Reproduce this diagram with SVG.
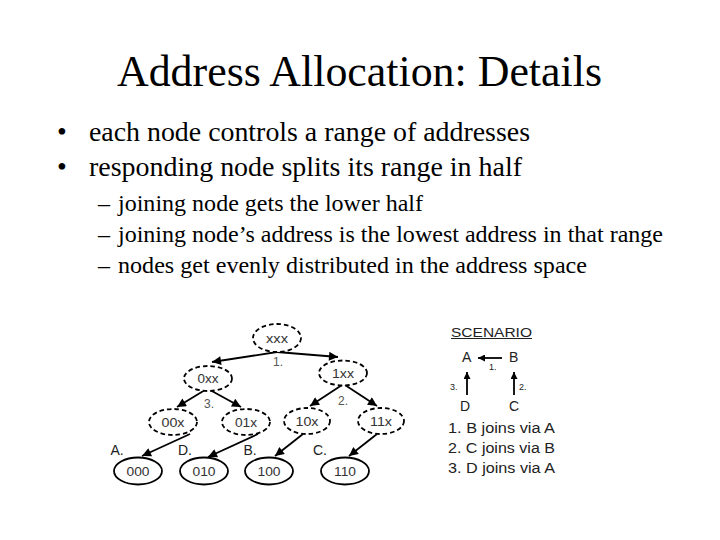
<svg xmlns="http://www.w3.org/2000/svg" width="720" height="540" viewBox="0 0 720 540">
<style>
.title{font-family:"Liberation Serif","Times New Roman",serif;font-size:44px;fill:#000}
.b1{font-family:"Liberation Serif","Times New Roman",serif;font-size:28px;fill:#000}
.b2{font-family:"Liberation Serif","Times New Roman",serif;font-size:24px;fill:#000}
.node ellipse{fill:#fff;stroke:#000;stroke-width:1.8}
.dashed ellipse{stroke-dasharray:4.5 3}
.nl{font-family:"Liberation Sans",Arial,sans-serif;font-size:12.5px;fill:#333;text-anchor:middle}
.el{font-family:"Liberation Sans",Arial,sans-serif;font-size:12px;fill:#555;text-anchor:middle}
.ll{font-family:"Liberation Sans",Arial,sans-serif;font-size:14px;fill:#222;text-anchor:middle}
.sc{font-family:"Liberation Sans",Arial,sans-serif;fill:#222}
.edge{stroke:#000;stroke-width:1.8;fill:none;marker-end:url(#ah)}
.sedge{stroke:#000;stroke-width:1.8;fill:none;marker-end:url(#ahs)}
</style>
<defs>
<marker id="ah" viewBox="0 0 10 10" refX="10" refY="5" markerWidth="12" markerHeight="9" markerUnits="userSpaceOnUse" orient="auto">
<path d="M0,0 L10,5 L0,10 z" fill="#000"/>
</marker>
<marker id="ahs" viewBox="0 0 10 10" refX="10" refY="5" markerWidth="8" markerHeight="7" markerUnits="userSpaceOnUse" orient="auto">
<path d="M0,0 L10,5 L0,10 z" fill="#000"/>
</marker>
</defs>
<rect width="720" height="540" fill="#fff"/>
<text class="title" x="117" y="86" textLength="485" lengthAdjust="spacingAndGlyphs">Address Allocation: Details</text>
<g id="bullets">
<text class="b1" x="57" y="141">•</text>
<text class="b1" x="89" y="141" textLength="441" lengthAdjust="spacingAndGlyphs">each node controls a range of addresses</text>
<text class="b1" x="57" y="176">•</text>
<text class="b1" x="89" y="176" textLength="433" lengthAdjust="spacingAndGlyphs">responding node splits its range in half</text>
<text class="b2" x="98" y="211">–</text>
<text class="b2" x="118" y="211" textLength="305" lengthAdjust="spacingAndGlyphs">joining node gets the lower half</text>
<text class="b2" x="98" y="242">–</text>
<text class="b2" x="118" y="242" textLength="545" lengthAdjust="spacingAndGlyphs">joining node’s address is the lowest address in that range</text>
<text class="b2" x="98" y="273">–</text>
<text class="b2" x="118" y="273" textLength="469" lengthAdjust="spacingAndGlyphs">nodes get evenly distributed in the address space</text>
</g>
<g id="connectors">
<line class="edge" x1="277" y1="352" x2="212" y2="362"/>
<line class="edge" x1="277" y1="352" x2="338" y2="357"/>
<line class="edge" x1="205" y1="390" x2="177" y2="407"/>
<line class="edge" x1="210" y1="390" x2="241" y2="407"/>
<line class="edge" x1="342" y1="385" x2="310" y2="406"/>
<line class="edge" x1="345" y1="385" x2="377" y2="406"/>
<line class="edge" x1="190" y1="434" x2="142" y2="456"/>
<line class="edge" x1="258" y1="434" x2="208" y2="457"/>
<line class="edge" x1="303" y1="434" x2="275" y2="456"/>
<line class="edge" x1="377" y1="434" x2="349" y2="456"/>
<text class="el" x="278" y="366">1.</text>
<text class="el" x="209" y="408">3.</text>
<text class="el" x="343" y="405">2.</text>
<text class="ll" x="117" y="455">A.</text>
<text class="ll" x="185" y="455">D.</text>
<text class="ll" x="250" y="455">B.</text>
<text class="ll" x="320" y="455">C.</text>
</g>
<g id="n-xxx" class="node dashed"><ellipse cx="277" cy="338" rx="24" ry="14"/><text class="nl" x="277" y="342.5" textLength="22" lengthAdjust="spacingAndGlyphs">xxx</text></g>
<g id="n-0xx" class="node dashed"><ellipse cx="208" cy="378.5" rx="24" ry="12.5"/><text class="nl" x="208" y="383" textLength="21" lengthAdjust="spacingAndGlyphs">0xx</text></g>
<g id="n-1xx" class="node dashed"><ellipse cx="343" cy="373" rx="24" ry="12.5"/><text class="nl" x="343" y="377.5" textLength="22" lengthAdjust="spacingAndGlyphs">1xx</text></g>
<g id="n-00x" class="node dashed"><ellipse cx="173" cy="422" rx="24" ry="13"/><text class="nl" x="173" y="426.5" textLength="23" lengthAdjust="spacingAndGlyphs">00x</text></g>
<g id="n-01x" class="node dashed"><ellipse cx="246" cy="422" rx="24" ry="13"/><text class="nl" x="246" y="426.5" textLength="22" lengthAdjust="spacingAndGlyphs">01x</text></g>
<g id="n-10x" class="node dashed"><ellipse cx="307" cy="421" rx="23" ry="13"/><text class="nl" x="307" y="425.5" textLength="23" lengthAdjust="spacingAndGlyphs">10x</text></g>
<g id="n-11x" class="node dashed"><ellipse cx="381" cy="421" rx="23" ry="13"/><text class="nl" x="381" y="425.5" textLength="22" lengthAdjust="spacingAndGlyphs">11x</text></g>
<g id="n-000" class="node"><ellipse cx="138" cy="471" rx="24" ry="13.5"/><text class="nl" x="138" y="475.5" textLength="23" lengthAdjust="spacingAndGlyphs">000</text></g>
<g id="n-010" class="node"><ellipse cx="204" cy="471" rx="24" ry="13.5"/><text class="nl" x="204" y="475.5" textLength="23" lengthAdjust="spacingAndGlyphs">010</text></g>
<g id="n-100" class="node"><ellipse cx="269" cy="471" rx="24" ry="13.5"/><text class="nl" x="269" y="475.5" textLength="23" lengthAdjust="spacingAndGlyphs">100</text></g>
<g id="n-110" class="node"><ellipse cx="345" cy="471" rx="24" ry="13.5"/><text class="nl" x="345" y="475.5" textLength="22" lengthAdjust="spacingAndGlyphs">110</text></g>
<g id="scenario">
<text class="sc" x="451" y="337" font-size="12" textLength="81" lengthAdjust="spacingAndGlyphs">SCENARIO</text>
<line x1="451" y1="338.5" x2="532" y2="338.5" stroke="#222" stroke-width="1"/>
<text class="sc" x="462" y="362" font-size="14">A</text>
<text class="sc" x="509" y="362" font-size="14">B</text>
<text class="sc" x="460" y="411" font-size="14">D</text>
<text class="sc" x="509" y="411" font-size="14">C</text>
<line class="sedge" x1="502" y1="358" x2="478" y2="358"/>
<line class="sedge" x1="467" y1="395" x2="467" y2="372"/>
<line class="sedge" x1="514" y1="395" x2="514" y2="372"/>
<text class="sc" x="489" y="370" font-size="9" fill="#666">1.</text>
<text class="sc" x="450" y="390" font-size="9" fill="#666">3.</text>
<text class="sc" x="519" y="390" font-size="9" fill="#666">2.</text>
<text class="sc" x="448" y="433" font-size="14" textLength="107" lengthAdjust="spacingAndGlyphs">1. B joins via A</text>
<text class="sc" x="448" y="453" font-size="14" textLength="107" lengthAdjust="spacingAndGlyphs">2. C joins via B</text>
<text class="sc" x="448" y="473" font-size="14" textLength="107" lengthAdjust="spacingAndGlyphs">3. D joins via A</text>
</g>
</svg>
